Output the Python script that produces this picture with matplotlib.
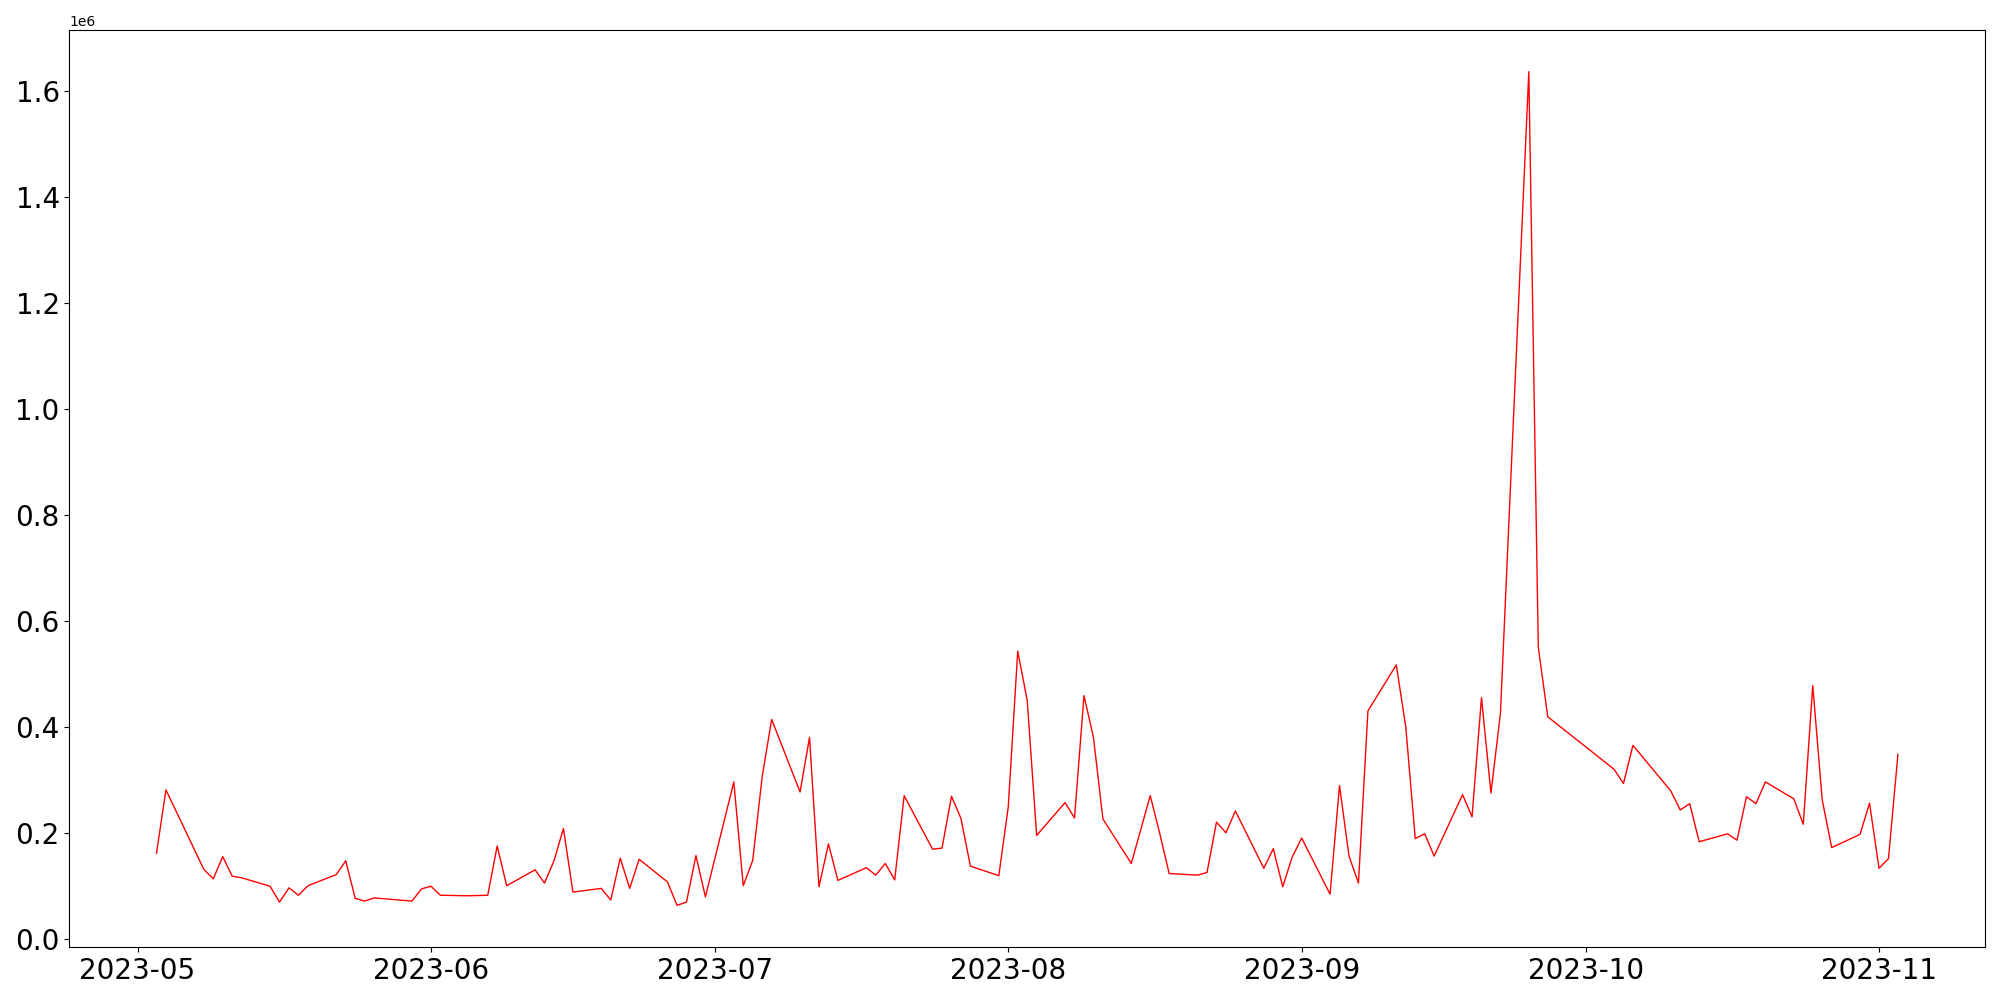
import numpy as np
import pandas as pd
import matplotlib
matplotlib.use('Agg')
import matplotlib.pyplot as plt

# days after 2023-05-01 and the values
days = [2, 3, 7, 8, 9, 10, 11, 14, 15, 16, 17, 18, 21, 22, 23, 24, 25, 29, 30, 31,
        32, 35, 37, 38, 39, 42, 43, 44, 45, 46, 49, 50, 51, 52, 53, 56, 57, 58, 59, 60,
        63, 64, 65, 66, 67, 70, 71, 72, 73, 74, 77, 78, 79, 80, 81, 84, 85, 86, 87, 88,
        91, 92, 93, 94, 95, 98, 99, 100, 101, 102, 105, 107, 108, 109, 112, 113, 114, 115, 116, 119,
        120, 121, 122, 123, 126, 127, 128, 129, 130, 133, 134, 135, 136, 137, 140, 141, 142, 143, 144, 147,
        148, 149, 156, 157, 158, 162, 163, 164, 165, 168, 169, 170, 171, 172, 175, 176, 177, 178, 179, 182,
        183, 184, 185, 186]
values = [0.161, 0.281, 0.131, 0.113, 0.155, 0.118, 0.115, 0.099, 0.069, 0.096, 0.082, 0.100, 0.121, 0.147, 0.076, 0.071, 0.077, 0.071, 0.094, 0.099,
          0.082, 0.081, 0.082, 0.175, 0.100, 0.130, 0.105, 0.147, 0.208, 0.088, 0.095, 0.073, 0.152, 0.095, 0.150, 0.107, 0.063, 0.069, 0.157, 0.079,
          0.296, 0.100, 0.148, 0.306, 0.414, 0.277, 0.380, 0.098, 0.179, 0.110, 0.134, 0.120, 0.142, 0.111, 0.270, 0.169, 0.171, 0.269, 0.227, 0.137,
          0.119, 0.249, 0.543, 0.450, 0.195, 0.257, 0.228, 0.459, 0.380, 0.226, 0.142, 0.270, 0.199, 0.123, 0.120, 0.125, 0.220, 0.200, 0.241, 0.133,
          0.170, 0.098, 0.154, 0.190, 0.084, 0.289, 0.156, 0.105, 0.430, 0.517, 0.400, 0.189, 0.198, 0.156, 0.272, 0.230, 0.455, 0.275, 0.425, 1.637,
          0.551, 0.419, 0.320, 0.293, 0.365, 0.279, 0.243, 0.255, 0.183, 0.198, 0.186, 0.268, 0.255, 0.296, 0.264, 0.216, 0.478, 0.262, 0.172, 0.197,
          0.256, 0.133, 0.151, 0.348]

dates = pd.Timestamp('2023-05-01') + pd.to_timedelta(days, unit='D')
values = np.array(values) * 1e6

fig = plt.figure(figsize=(20, 10), dpi=100)
plt.plot(dates, values, color='red', linewidth=1)
plt.xticks(fontsize=20)
plt.yticks(fontsize=20)
plt.subplots_adjust(left=0.0347, right=0.9925, bottom=0.053, top=0.97)
plt.savefig('out.png')
